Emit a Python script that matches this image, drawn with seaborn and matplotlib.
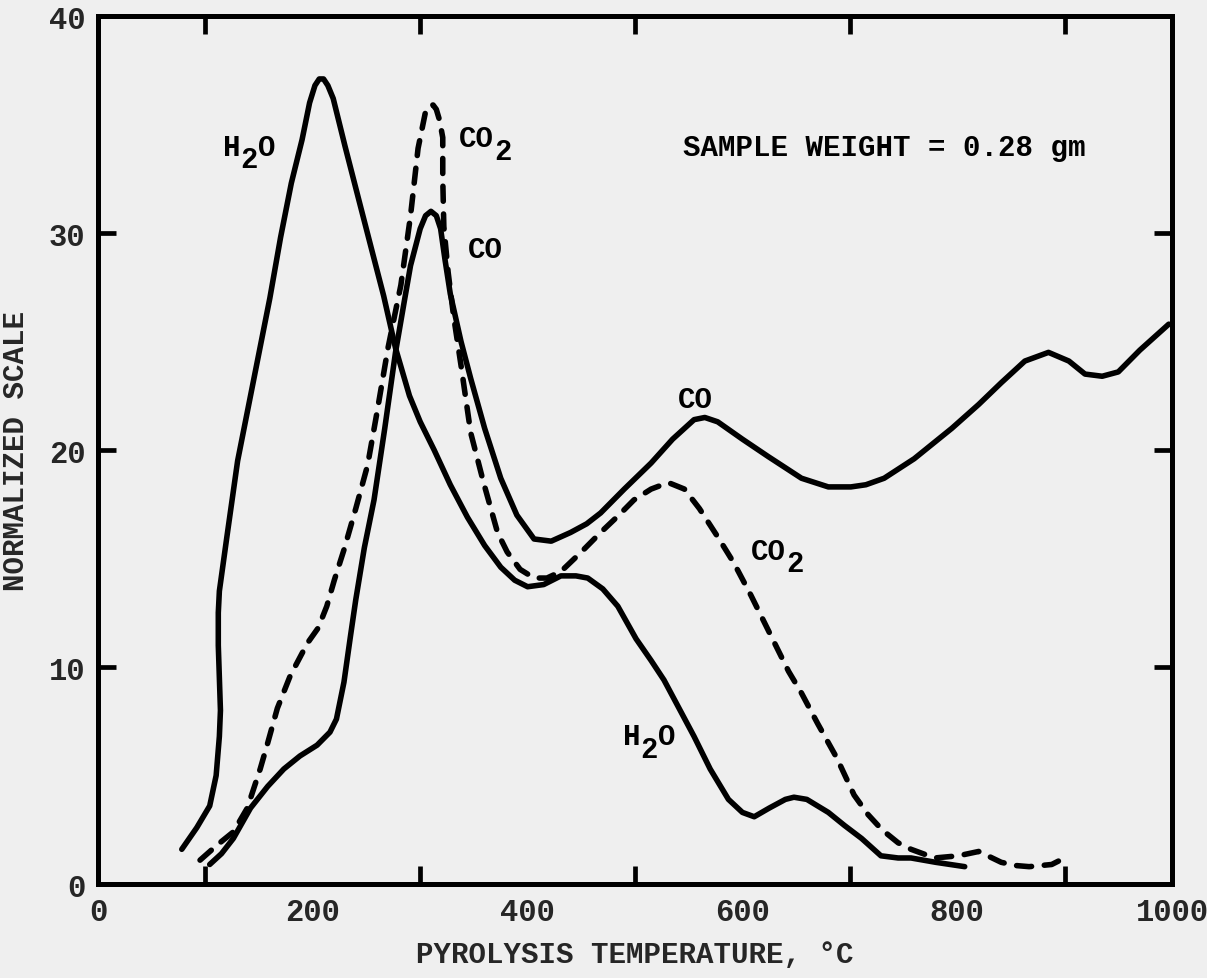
import numpy as np
import matplotlib
matplotlib.use("Agg")
import matplotlib.pyplot as plt
import seaborn as sns

# Gas evolution profiles: temperature (deg C) vs normalized scale
h2o_temp = [78, 92, 104, 110, 113, 114, 113, 112, 112, 113, 120, 130, 140, 150, 160,
            170, 180, 190, 197, 202, 206, 210, 214, 219, 230, 243, 255, 266, 277, 290,
            300, 313, 328, 344, 360, 375, 388, 400, 415, 431, 445, 456, 470, 484, 501,
            515, 527, 541, 555, 570, 587, 600, 611, 625, 640, 648, 660, 680, 695, 711,
            729, 745, 757, 780, 807]
h2o_scale = [1.6, 2.6, 3.6, 5.0, 6.8, 8.0, 9.5, 11.0, 12.5, 13.5, 16.0, 19.5, 22.0, 24.5, 27.0,
             29.8, 32.3, 34.3, 36.0, 36.8, 37.1, 37.1, 36.8, 36.2, 34.0, 31.5, 29.2, 27.1, 24.7, 22.5,
             21.3, 20.0, 18.4, 16.9, 15.6, 14.6, 14.0, 13.7, 13.8, 14.2, 14.2, 14.1, 13.6, 12.8, 11.3,
             10.3, 9.4, 8.1, 6.8, 5.3, 3.9, 3.3, 3.1, 3.5, 3.9, 4.0, 3.9, 3.3, 2.7, 2.1,
             1.3, 1.2, 1.2, 1.0, 0.8]

co_temp = [104, 115, 126, 142, 158, 173, 188, 204, 216, 222, 229, 235, 240, 248, 257,
           267, 277, 285, 291, 300, 305, 310, 315, 319, 323, 328, 338, 347, 360, 375,
           390, 406, 422, 440, 455, 468, 490, 515, 535, 555, 565, 577, 600, 624, 655,
           680, 701, 715, 732, 760, 795, 820, 841, 863, 885, 904, 919, 935, 950, 970,
           997]
co_scale = [0.9, 1.4, 2.1, 3.5, 4.5, 5.3, 5.9, 6.4, 7.0, 7.6, 9.3, 11.4, 13.1, 15.5, 17.7,
            21.0, 24.5, 26.8, 28.5, 30.2, 30.8, 31.0, 30.8, 30.2, 28.8, 27.2, 25.0, 23.3, 21.0, 18.7,
            17.0, 15.9, 15.8, 16.2, 16.6, 17.1, 18.2, 19.4, 20.5, 21.4, 21.5, 21.3, 20.5, 19.7, 18.7,
            18.3, 18.3, 18.4, 18.7, 19.6, 21.0, 22.1, 23.1, 24.1, 24.5, 24.1, 23.5, 23.4, 23.6, 24.6,
            25.8]

co2_temp = [95, 111, 126, 139, 151, 158, 167, 179, 195, 205, 213, 220, 229, 240, 251,
            260, 270, 282, 291, 298, 305, 309, 312, 315, 318, 321, 321, 322, 326, 331,
            338, 347, 359, 372, 381, 393, 406, 418, 431, 450, 468, 485, 499, 515, 531,
            546, 560, 577, 592, 608, 625, 643, 655, 670, 688, 704, 717, 730, 745, 757,
            779, 801, 820, 841, 855, 867, 888, 900]
co2_scale = [1.1, 1.8, 2.4, 3.5, 5.3, 6.5, 8.1, 9.6, 11.1, 11.8, 12.8, 14.0, 15.4, 17.3, 19.3,
             21.8, 24.7, 27.6, 30.8, 33.9, 35.6, 35.9, 35.9, 35.7, 35.2, 34.4, 32.5, 30.3, 28.2, 26.2,
             23.9, 20.8, 18.5, 16.2, 15.3, 14.5, 14.1, 14.1, 14.4, 15.3, 16.2, 17.0, 17.7, 18.2, 18.5,
             18.2, 17.3, 16.0, 14.8, 13.3, 11.6, 9.8, 8.8, 7.4, 5.8, 4.1, 3.2, 2.5, 1.9, 1.6,
             1.2, 1.3, 1.5, 1.0, 0.85, 0.8, 0.9, 1.2]

x_ticks = [0, 200, 400, 600, 800, 1000]
y_ticks = [0, 10, 20, 30, 40]

sns.set_style("ticks")
paper = "#efefef"
plt.rcParams["font.family"] = ["Liberation Mono", "DejaVu Sans Mono"]
plt.rcParams["font.weight"] = "bold"

fig = plt.figure(figsize=(12.07, 9.79), dpi=100, facecolor=paper)
ax = fig.add_axes([0.0812, 0.096, 0.971 - 0.0812, 0.9826 - 0.096])
ax.set_facecolor(paper)

lw = 4.0
line_kw = dict(sort=False, estimator=None, color="black", lw=lw, ax=ax,
               solid_capstyle="round", solid_joinstyle="round")
sns.lineplot(x=h2o_temp, y=h2o_scale, **line_kw)
sns.lineplot(x=co_temp, y=co_scale, **line_kw)
sns.lineplot(x=co2_temp, y=co2_scale, **line_kw)
dashed = ax.lines[-1]
dashed.set_linestyle((0, (2.7, 2.3)))
dashed.set_dash_capstyle("round")
dashed.set_dash_joinstyle("round")

ax.set_xlim(0, 1000)
ax.set_ylim(0, 40)
ax.set_xticks(x_ticks)
ax.set_xticklabels([str(t) for t in x_ticks])
ax.set_xticks(list(np.arange(100, 1000, 100)), minor=True)
ax.set_yticks(y_ticks)
ax.set_yticklabels([str(t) for t in y_ticks])

for side in ["left", "right", "top", "bottom"]:
    ax.spines[side].set_visible(True)
    ax.spines[side].set_linewidth(3.6)
    ax.spines[side].set_color("black")

ax.tick_params(axis="both", which="both", direction="in", width=3.4, length=13,
               top=True, right=True, color="black")
ax.tick_params(axis="both", which="major", labelsize=22, pad=9)
ax.tick_params(axis="x", which="major", length=0)

ax.set_xlabel("PYROLYSIS TEMPERATURE, °C", fontsize=21, fontweight="bold", labelpad=10)
ax.set_ylabel("NORMALIZED SCALE", fontsize=21, fontweight="bold", labelpad=14)

FS = 21
CHAR = 0.6 * FS  # advance of one monospaced character, in points


def label(x, y, pieces):
    """Write a formula whose digits sit lowered at full size, e.g. H2O."""
    col = 0
    for s, low in pieces:
        ax.annotate(s, xy=(x, y), xytext=(col * CHAR, -9 if low else 0),
                    textcoords="offset points", fontsize=FS, fontweight="bold",
                    color="black", ha="left", va="baseline")
        col += len(s)


label(116, 33.6, [("H", False), ("2", True), ("O", False)])
label(336, 34.0, [("CO", False), ("2", True)])
label(344, 28.9, [("CO", False)])
label(540, 22.0, [("CO", False)])
label(608, 15.0, [("CO", False), ("2", True)])
label(489, 6.45, [("H", False), ("2", True), ("O", False)])
label(545, 33.6, [("SAMPLE WEIGHT = 0.28 gm", False)])

fig.savefig("out.png", dpi=100, facecolor=paper)
